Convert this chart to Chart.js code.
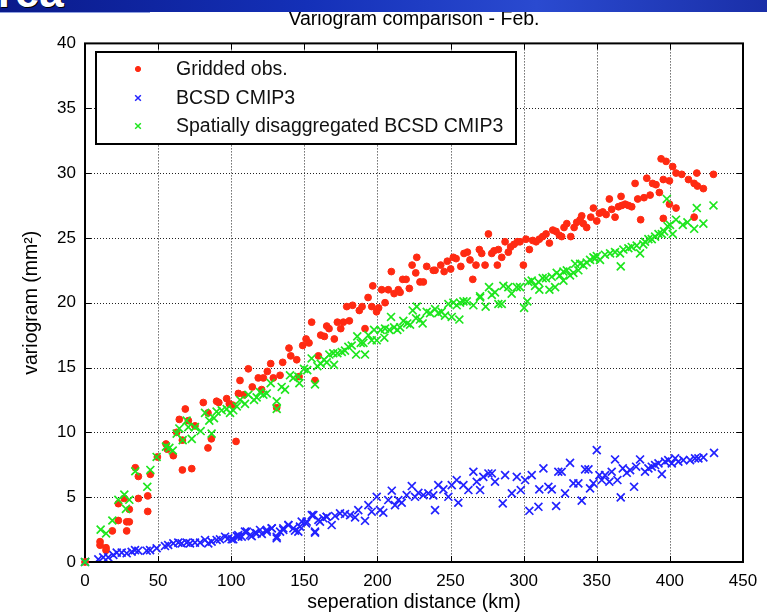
<!DOCTYPE html>
<html>
<head>
<meta charset="utf-8">
<script src="https://cdn.jsdelivr.net/npm/chart.js@4.4.0/dist/chart.umd.min.js"></script>
<style>
  html, body { margin: 0; padding: 0; background: #fff; }
  #wrap { position: relative; width: 767px; height: 614px; overflow: hidden; }
  #banner {
    position: absolute; left: 0; top: 0; width: 767px; height: 12px; overflow: hidden;
    background: linear-gradient(90deg, #0a1a8a 0%, #1430b8 40%, #2a4ad0 70%, #1a2fa8 100%);
    z-index: 2;
  }
  #banner span {
    position: absolute; left: -34px; top: -33px;
    font: bold 44px "Liberation Sans", Arial, sans-serif; color: #fff;
    text-shadow: 1px 1px 0 #000;
  }
  #bannerLine { position: absolute; left: 0; top: 12px; width: 150px; height: 1px; background: #8fa0e0; z-index: 2; }
  canvas { position: absolute; left: 0; top: 0; }
</style>
</head>
<body>
<div id="wrap">
  <div id="banner"><span>Area</span></div>
  <div id="bannerLine"></div>
  <canvas id="chart" width="767" height="614"></canvas>
</div>
<script>
// Data
const xTicks = [0, 50, 100, 150, 200, 250, 300, 350, 400, 450];
const yTicks = [0, 5, 10, 15, 20, 25, 30, 35, 40];

const seriesNames = ['Gridded obs.', 'BCSD CMIP3', 'Spatially disaggregated BCSD CMIP3'];

// Gridded obs.
const obsDist = [0, 10.3, 10.3, 14.4, 14.4, 18.7, 22.8, 22.8, 26.9, 28.5, 30.3, 28.5, 30.3, 34.4, 36.5, 36.5, 42.9, 42.9, 44.7, 49.5,
  55.4, 56.3, 60.4, 62.7, 64.5, 66.6, 66.6, 68.6, 70.7, 73, 75.2, 80.9, 84.1, 84.1, 86.4, 90, 91.5, 96.9, 98.7, 101,
  103.3, 106, 104.9, 108.8, 111.7, 114.4, 118.5, 122, 120.8, 124.7, 127, 128.8, 131.1, 133.4, 135.2, 139.5, 140.7, 144.8, 146.4, 148.9,
  151.2, 153.2, 155, 157.3, 159.6, 161.2, 163.7, 165.3, 166.9, 170.5, 172.6, 176.7, 180.8, 174.9, 179, 183, 187.6, 189.5, 191.5, 193.6,
  196.8, 196.1, 199.4, 200.8, 202.9, 207.4, 205.2, 209.5, 211.4, 214.3, 215.5, 217.3, 219.6, 221.8, 223.7, 226.2, 226.9, 229.1, 231.4, 233.7,
  238.2, 239.4, 243.3, 245.6, 247.8, 250.1, 251.9, 253.8, 257, 259.2, 261.5, 263.3, 265.2, 267.4, 269.7, 271.3, 273.6, 275.9, 278.2, 279.7,
  282.7, 282, 285, 287.3, 289.5, 291.1, 293.4, 295.7, 297.5, 299.8, 301.6, 303.9, 306.2, 308.5, 310.7, 313, 315.3, 317.6, 319.9, 322.1,
  324.4, 326, 327.6, 329.5, 332.2, 334.5, 336.3, 338.6, 340.8, 339.7, 343.1, 345.9, 347.7, 350, 351.8, 354.1, 356.4, 358.6, 360.2, 362.5,
  364.8, 367.1, 369.4, 371.6, 373.9, 366.6, 376.2, 378, 380, 382.3, 384.2, 386.5, 388.2, 390.5, 392.8, 394, 397.4, 395.5, 399.7, 401.9,
  399.7, 395.5, 404.2, 404.2, 408.1, 412.7, 416.6, 418.8, 418.4, 422.9, 416.6, 429.8];
const obsVar = [0, 1.57, 1.3, 1.1, 0.9, 2.4, 3.2, 4.5, 4.9, 3.1, 3.1, 2.4, 4.06, 7.27, 6.6, 4.9, 5.1, 3.9, 6.76, 8.1,
  9.1, 8.7, 8.2, 10.0, 11.0, 7.1, 9.4, 11.8, 10.9, 7.2, 10.5, 12.3, 11.5, 8.8, 9.5, 12.4, 12.3, 12.6, 12.2, 12.1,
  9.3, 14.0, 13.0, 12.9, 14.9, 13.5, 14.2, 14.2, 13.3, 14.7, 15.3, 14.2, 11.9, 14.4, 15.4, 16.5, 15.9, 15.6, 14.3, 16.7,
  17.2, 16.9, 18.5, 14.0, 15.9, 17.5, 17.4, 18.2, 18.0, 17.2, 18.5, 18.5, 18.6, 18.0, 19.7, 19.8, 19.4, 19.7, 18.0, 20.4,
  21.3, 19.7, 19.3, 19.6, 21.0, 21.0, 20.0, 22.4, 20.7, 21.0, 20.8, 21.8, 21.8, 21.1, 22.9, 22.3, 23.5, 21.6, 21.6, 22.8,
  22.5, 22.5, 22.9, 22.4, 23.2, 22.6, 23.5, 23.4, 22.8, 23.8, 23.9, 23.3, 21.8, 22.9, 24.1, 23.8, 22.9, 25.3, 23.8, 24.0,
  24.1, 22.9, 23.5, 24.7, 23.9, 24.3, 24.5, 24.7, 24.7, 22.9, 24.9, 24.1, 24.8, 24.7, 24.9, 25.1, 25.3, 24.6, 25.6, 25.5,
  25.2, 25.1, 25.8, 26.1, 25.1, 25.8, 26.2, 26.4, 26.1, 26.7, 25.8, 26.6, 27.3, 26.3, 26.9, 27.0, 26.8, 28.0, 27.2, 26.6,
  27.4, 27.5, 27.6, 27.5, 27.4, 28.2, 29.2, 28.0, 26.4, 28.1, 29.6, 28.3, 29.2, 29.1, 28.5, 31.1, 30.9, 29.5, 29.4, 30.5,
  27.6, 26.5, 30.0, 27.3, 29.9, 29.5, 29.2, 29.0, 30.0, 28.8, 26.6, 29.9];

// BCSD CMIP3
const bcsdDist = [0, 9.1, 12.5, 15.9, 19.4, 21.7, 25.1, 28.5, 31.9, 34.2, 36.5, 42.2, 44.5, 49, 54.7, 56.9, 60.4, 63.8, 66.1, 69.5,
  71.8, 75.2, 78.7, 82.1, 84.3, 86.6, 90, 92.3, 95.8, 98, 101.4, 104.8, 100.3, 104.9, 109.4, 112.9, 116.3, 119.7, 124.3, 127.7,
  131.1, 135.6, 139.1, 143.6, 147, 151.6, 156.2, 157.3, 160.7, 165.3, 103.8, 107.2, 110.6, 114, 117.4, 120.9, 124.3, 127.7, 131.1, 133.4,
  135.6, 139.1, 142.5, 145.9, 148.2, 151.2, 155.1, 157.3, 159.6, 163, 165.3, 168.7, 171, 174.4, 177.8, 181.3, 184.7, 186.9, 191.5, 193.8,
  196.1, 199.5, 201.8, 204, 207.4, 209.8, 212, 214.3, 216.6, 220, 223.5, 225.7, 228, 231.4, 234.8, 238.2, 239.4, 241.6, 245.1, 248.5,
  250.8, 254.2, 255.3, 258.8, 262.2, 265.6, 267.9, 270.2, 272.4, 275.9, 278.2, 280.4, 285.7, 287.3, 291.9, 295.3, 298, 301, 303.9, 305.5,
  310.1, 310.7, 313.5, 316.9, 319.2, 322.2, 323.7, 326, 328.3, 331.7, 334, 337.4, 339.7, 342, 344.3, 345.4, 347.7, 350, 351.8, 353.4,
  355.7, 358.6, 360.2, 362.5, 364.1, 366.4, 367.8, 370.5, 372.8, 375.5, 376.9, 379.6, 383, 385.3, 387.6, 389.9, 392.2, 394.5, 396.7, 398.9,
  401.3, 403.6, 405.8, 409.2, 413.8, 417.2, 419.5, 422.9, 430.2];
const bcsdVar = [0, 0.2, 0.36, 0.36, 0.54, 0.72, 0.72, 0.67, 0.79, 0.92, 0.87, 0.87, 0.92, 1.06, 1.23, 1.31, 1.44, 1.49, 1.44, 1.49,
  1.44, 1.49, 1.49, 1.7, 1.44, 1.57, 1.7, 1.75, 1.95, 1.83, 1.75, 2.08, 1.75, 1.95, 2.34, 2.08, 2.26, 2.47, 2.34, 2.6,
  1.95, 2.6, 2.85, 2.41, 2.73, 3.11, 3.62, 2.26, 3.11, 3.49, 2.0, 1.95, 2.34, 2.0, 2.21, 2.16, 2.47, 2.6, 1.83, 2.34,
  2.47, 2.85, 2.6, 2.34, 3.11, 2.98, 3.62, 2.34, 3.24, 3.37, 3.49, 2.85, 3.55, 3.75, 3.7, 3.62, 3.44, 4.0, 3.18, 4.39,
  3.88, 5.03, 4.0, 3.8, 4.78, 5.5, 4.39, 4.78, 4.57, 5.16, 5.86, 5.03, 5.34, 5.16, 5.29, 5.14, 4.0, 5.93, 5.6, 5.03,
  5.93, 6.32, 4.57, 5.93, 5.55, 6.96, 6.19, 5.55, 6.57, 6.83, 6.83, 6.19, 4.52, 6.7, 5.29, 6.57, 5.55, 6.32, 3.95, 6.7,
  4.26, 5.6, 7.22, 5.8, 5.6, 4.32, 6.96, 6.96, 5.29, 7.65, 6.06, 6.06, 4.73, 7.14, 7.14, 5.68, 6.06, 8.63, 6.7, 6.32,
  6.7, 6.19, 6.96, 7.91, 6.32, 4.98, 7.22, 6.88, 7.09, 5.8, 7.35, 7.91, 6.96, 7.22, 7.35, 7.48, 7.61, 6.78, 7.74, 7.86,
  7.61, 7.99, 7.74, 7.86, 7.86, 7.99, 7.99, 8.07, 8.42];

// Spatially disaggregated BCSD CMIP3
const sdDist = [0, 10.7, 14.4, 18.7, 22.8, 26.9, 28, 30.3, 34.4, 42.6, 44.7, 49, 55.4, 57.7, 60, 62.7, 64.5, 66.8, 69.5, 70.7,
  73, 75.2, 79.1, 82.1, 85, 86.6, 88.2, 90, 93.5, 96.9, 99.2, 101.4, 103.8, 106, 109.4, 111.7, 115.6, 117.4, 119.7, 122,
  124.3, 127, 131.1, 131.1, 134.5, 136.8, 140.2, 142.5, 145.9, 146.6, 149.8, 152, 155, 157.3, 158.9, 161.2, 163.5, 165.3, 167.1, 169.8,
  170.3, 172.6, 175.6, 177.8, 180.1, 182.4, 185.4, 186.2, 188.6, 190.4, 191.5, 193.8, 196.1, 197.7, 199.5, 202.2, 205.2, 208.1, 211.4, 204.7,
  209.3, 213.6, 215.5, 217.7, 220.4, 222.3, 224.1, 226.9, 226.4, 229.1, 230.9, 233.7, 236, 239.4, 241.6, 243.9, 246.2, 248.5, 250.8, 251.9,
  254.2, 256.5, 258.8, 261.1, 256, 265.6, 270.2, 270.2, 274, 276.3, 278.2, 280.4, 282.7, 285, 286.1, 289.5, 291.8, 295.3, 297.5, 300.3,
  302.5, 303.2, 305.5, 307.8, 310.1, 313, 315.3, 310.7, 317.6, 321.5, 319.2, 322.6, 324.9, 327.2, 329.5, 327.2, 331.7, 334, 337.4, 335.2,
  338.6, 340.8, 343.1, 345.4, 347.7, 350, 348.8, 352.2, 355.6, 359.1, 362.5, 365.9, 368.2, 371.6, 373.9, 377.3, 381.8, 383, 385.3, 387.6,
  389.9, 392.2, 394.5, 396.1, 398.4, 366.4, 379.6, 397.9, 400.1, 401.9, 404.2, 408.8, 412, 416.6, 418.4, 422.9, 429.8];
const sdVar = [0, 2.5, 2.2, 3.2, 4.8, 5.2, 4.1, 4.8, 7.0, 5.8, 7.1, 8.1, 8.9, 8.8, 8.6, 9.9, 10.3, 9.4, 10.9, 10.4,
  9.5, 10.4, 10.1, 11.5, 10.9, 9.9, 11.1, 11.6, 11.7, 11.8, 11.5, 11.7, 12.0, 12.5, 12.2, 12.9, 12.5, 12.7, 13.1, 12.9,
  13.0, 13.8, 12.4, 11.8, 13.5, 13.3, 14.4, 14.2, 14.3, 13.8, 14.9, 14.8, 15.7, 13.7, 15.1, 15.3, 15.6, 15.4, 16.0, 16.1,
  15.2, 16.1, 16.2, 16.3, 16.6, 16.7, 16.0, 17.4, 16.9, 16.9, 16.0, 17.5, 17.1, 17.9, 17.1, 17.9, 18.0, 17.9, 18.1, 17.3,
  18.9, 17.9, 18.1, 18.6, 18.4, 18.3, 19.4, 19.7, 18.8, 18.7, 18.4, 19.3, 19.2, 19.5, 19.2, 19.3, 19.0, 19.9, 18.9, 20.0,
  19.8, 20.0, 20.1, 20.1, 18.7, 19.8, 20.5, 20.4, 19.7, 21.2, 20.6, 20.8, 19.9, 19.9, 21.3, 21.2, 20.7, 21.2, 21.2, 19.6,
  20.1, 21.6, 21.7, 21.3, 21.6, 21.9, 21.9, 21.0, 21.0, 21.2, 22.0, 22.3, 22.1, 22.4, 22.5, 21.7, 22.1, 22.3, 22.5, 23.0,
  23.0, 22.9, 23.1, 23.3, 23.5, 23.6, 23.4, 23.3, 23.7, 23.8, 23.9, 23.8, 24.1, 24.2, 24.3, 24.4, 24.5, 24.7, 24.9, 24.9,
  25.1, 25.3, 25.3, 25.5, 25.9, 22.8, 23.8, 28.0, 26.0, 25.3, 26.4, 26.0, 26.2, 25.7, 27.3, 26.1, 27.5];

const RED = '#ff2a12';
const BLUE = '#2222ff';
const GREEN = '#1ee61e';
const FONT = '"Liberation Sans", Arial, sans-serif';

function toPoints(xs, ys) {
  return xs.map((x, i) => ({ x: x, y: ys[i] }));
}

// dotted grid (under the data), frame with inward ticks and boxed legend (on top)
const matlabFrame = {
  id: 'matlabFrame',
  beforeDatasetsDraw(chart) {
    const ctx = chart.ctx;
    const a = chart.chartArea;
    const xs = chart.scales.x, ys = chart.scales.y;
    ctx.save();
    ctx.strokeStyle = '#222';
    ctx.lineWidth = 1;
    ctx.setLineDash([1, 2]);
    ctx.beginPath();
    xTicks.slice(1, -1).forEach(v => {
      const px = Math.round(xs.getPixelForValue(v)) + 0.5;
      ctx.moveTo(px, a.top); ctx.lineTo(px, a.bottom);
    });
    yTicks.slice(1, -1).forEach(v => {
      const py = Math.round(ys.getPixelForValue(v)) + 0.5;
      ctx.moveTo(a.left, py); ctx.lineTo(a.right, py);
    });
    ctx.stroke();
    ctx.restore();
  },
  afterDraw(chart) {
    const ctx = chart.ctx;
    const a = chart.chartArea;
    const xs = chart.scales.x, ys = chart.scales.y;
    ctx.save();
    ctx.strokeStyle = '#000';
    ctx.lineWidth = 1;
    ctx.beginPath();
    xTicks.forEach(v => {
      const px = Math.round(xs.getPixelForValue(v)) + 0.5;
      ctx.moveTo(px, a.bottom); ctx.lineTo(px, a.bottom - 6);
      ctx.moveTo(px, a.top); ctx.lineTo(px, a.top + 6);
    });
    yTicks.forEach(v => {
      const py = Math.round(ys.getPixelForValue(v)) + 0.5;
      ctx.moveTo(a.left, py); ctx.lineTo(a.left + 6, py);
      ctx.moveTo(a.right, py); ctx.lineTo(a.right - 6, py);
    });
    ctx.stroke();
    ctx.lineWidth = 2;
    ctx.strokeRect(a.left, a.top, a.right - a.left, a.bottom - a.top);

    // markers sitting on the origin are drawn over the frame, green last as in the figure
    chart.data.datasets.forEach(ds => {
      ctx.fillStyle = ds.backgroundColor;
      ctx.strokeStyle = ds.borderColor;
      ctx.lineWidth = ds.borderWidth;
      ds.data.filter(p => p.x === 0 && p.y === 0).forEach(p => {
        Chart.helpers.drawPoint(ctx, {
          pointStyle: ds.pointStyle, radius: ds.pointRadius, rotation: 0, borderWidth: ds.borderWidth
        }, xs.getPixelForValue(p.x), ys.getPixelForValue(p.y));
      });
    });

    // legend
    const box = { x: 96, y: 52, w: 420, h: 92 };
    ctx.fillStyle = '#fff';
    ctx.fillRect(box.x, box.y, box.w, box.h);
    ctx.lineWidth = 2;
    ctx.strokeStyle = '#000';
    ctx.strokeRect(box.x, box.y, box.w, box.h);
    const rows = [69, 98, 126];
    ctx.font = '19.5px ' + FONT;
    ctx.textBaseline = 'middle';
    chart.data.datasets.forEach((ds, i) => {
      ctx.fillStyle = ds.backgroundColor;
      ctx.strokeStyle = ds.borderColor;
      ctx.lineWidth = ds.pointStyle === 'circle' ? 1 : 1.5;
      Chart.helpers.drawPoint(ctx, {
        pointStyle: ds.pointStyle,
        radius: ds.pointStyle === 'circle' ? 2.6 : 4,
        rotation: 0,
        borderWidth: ds.borderWidth
      }, 138, rows[i]);
      ctx.fillStyle = '#111';
      ctx.fillText(ds.label, 176, rows[i] + 1);
    });
    ctx.restore();
  }
};

const ctx = document.getElementById('chart').getContext('2d');
const chart = new Chart(ctx, {
  type: 'scatter',
  data: {
    datasets: [
      {
        label: seriesNames[0],
        data: toPoints(obsDist, obsVar),
        pointStyle: 'circle',
        pointRadius: 3.4,
        backgroundColor: RED,
        borderColor: RED,
        borderWidth: 1,
        order: 2
      },
      {
        label: seriesNames[1],
        data: toPoints(bcsdDist, bcsdVar),
        pointStyle: 'crossRot',
        pointRadius: 5.6,
        backgroundColor: BLUE,
        borderColor: BLUE,
        borderWidth: 1.7,
        order: 1
      },
      {
        label: seriesNames[2],
        data: toPoints(sdDist, sdVar),
        pointStyle: 'crossRot',
        pointRadius: 5.6,
        backgroundColor: GREEN,
        borderColor: GREEN,
        borderWidth: 1.7,
        order: 0
      }
    ]
  },
  options: {
    responsive: false,
    animation: false,
    layout: { padding: { top: 0, right: 24, left: 0, bottom: 0 } },
    plugins: {
      legend: { display: false },
      tooltip: { enabled: false },
      title: {
        display: true,
        fullSize: false,
        text: 'Variogram comparison - Feb.',
        color: '#000',
        font: { family: FONT, size: 19.5, weight: 'normal', lineHeight: 1.2 },
        padding: { top: 8, bottom: 12 }
      }
    },
    scales: {
      x: {
        type: 'linear',
        min: 0,
        max: 450,
        afterFit(scale) { scale.height = 52; },
        afterBuildTicks(scale) { scale.ticks = xTicks.map(v => ({ value: v })); },
        grid: { display: false },
        border: { display: false },
        ticks: { color: '#000', padding: 1, font: { family: FONT, size: 17 } },
        title: {
          display: true,
          text: 'seperation distance (km)',
          color: '#000',
          font: { family: FONT, size: 19.5 },
          padding: { top: 0, bottom: 0 }
        }
      },
      y: {
        type: 'linear',
        min: 0,
        max: 40,
        afterFit(scale) { scale.width = 85; },
        afterBuildTicks(scale) { scale.ticks = yTicks.map(v => ({ value: v })); },
        grid: { display: false },
        border: { display: false },
        ticks: { color: '#000', padding: 1, font: { family: FONT, size: 17 } },
        title: {
          display: true,
          text: 'variogram (mm²)',
          color: '#000',
          font: { family: FONT, size: 19.5 },
          padding: { top: 20, bottom: 0 }
        }
      }
    }
  },
  plugins: [matlabFrame]
});
</script>
</body>
</html>
